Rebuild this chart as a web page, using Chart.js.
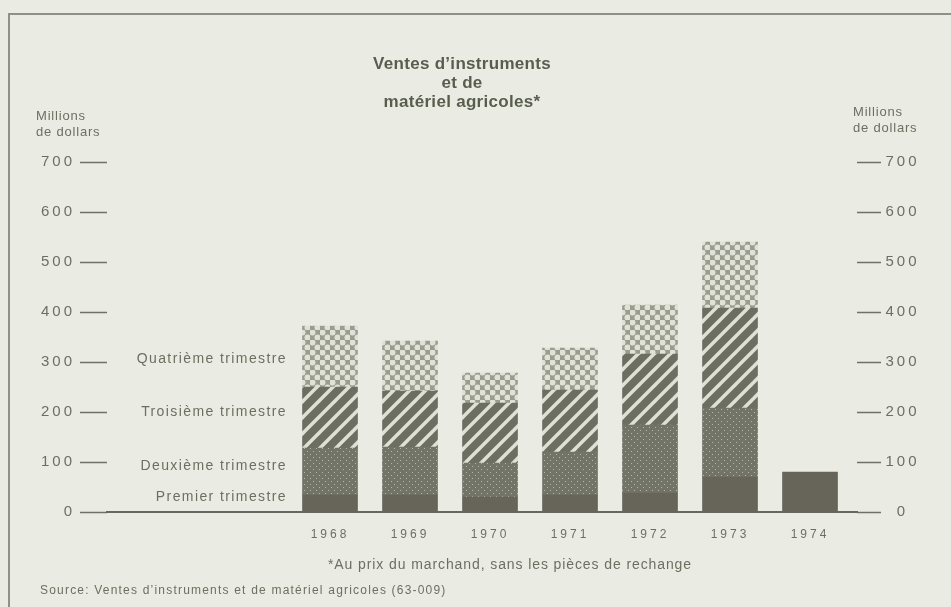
<!DOCTYPE html>
<html>
<head>
<meta charset="utf-8">
<script src="https://cdn.jsdelivr.net/npm/chart.js@4/dist/chart.umd.min.js"></script>
<style>
  body { margin: 0; background: #eaece3; }
  canvas { display: block; }
</style>
</head>
<body>
<canvas id="chart" width="951" height="607"></canvas>
<script>
// years on the x axis
const years = [1968, 1969, 1970, 1971, 1972, 1973, 1974];

// quarterly sales, millions of dollars
const q1 = [34, 34, 30, 34, 38, 70, 80];
const q2 = [94, 96, 68, 86, 136, 138, null];
const q3 = [122, 112, 120, 124, 142, 200, null];
const q4 = [122, 100, 60, 84, 98, 132, null];

const quarterNames = ["Premier trimestre", "Deuxième trimestre", "Troisième trimestre", "Quatrième trimestre"];
const yTicks = [0, 100, 200, 300, 400, 500, 600, 700];

const FONT = '"Liberation Sans", Arial, sans-serif';
const INK = "#6c6f60";
const BG = "#eaece3";

//Patterns for the four quarters
function makeTile(w, h, paint) {
  const c = document.createElement("canvas");
  c.width = w;
  c.height = h;
  paint(c.getContext("2d"));
  return c;
}

const tmp = document.createElement("canvas").getContext("2d");

const solidQ1 = "#676559";

const dotsQ2 = tmp.createPattern(makeTile(6, 6, (g) => {
  g.fillStyle = "#727467";
  g.fillRect(0, 0, 6, 6);
  g.fillStyle = "#b3b6a9";
  g.fillRect(1, 1, 1, 1);
  g.fillRect(4, 4, 1, 1);
}), "repeat");

const stripesQ3 = tmp.createPattern(makeTile(16, 16, (g) => {
  g.fillStyle = "#6b6e60";
  g.fillRect(0, 0, 16, 16);
  g.fillStyle = "#dfe1d6";
  // light band along the "/" diagonal, wrapped so the tile repeats cleanly
  for (const k of [-16, 0, 16]) {
    g.beginPath();
    g.moveTo(k - 2.5, 16);
    g.lineTo(k + 16 - 2.5, 0);
    g.lineTo(k + 16 + 2.5, 0);
    g.lineTo(k + 2.5, 16);
    g.closePath();
    g.fill();
  }
}), "repeat");

const circlesQ4 = tmp.createPattern(makeTile(10, 10, (g) => {
  g.fillStyle = "#9a9c8f";
  g.fillRect(0, 0, 10, 10);
  g.fillStyle = "#e0e2d8";
  const pts = [[2.5, 2.5], [7.5, 7.5]];
  for (const [x, y] of pts) {
    g.beginPath();
    g.arc(x, y, 3, 0, Math.PI * 2);
    g.fill();
  }
}), "repeat");

function series(values) {
  return years.map((yr, i) => ({ x: yr, y: values[i] }));
}

function txt(ctx, s, x, y, font, color, align, spacing) {
  ctx.save();
  ctx.font = font;
  ctx.fillStyle = color;
  ctx.textAlign = align || "left";
  ctx.textBaseline = "middle";
  ctx.letterSpacing = spacing || "0px";
  ctx.fillText(s, x, y);
  ctx.restore();
}

//Draws frame, title and the texts around the bars
const decorations = {
  id: "decorations",
  beforeDraw(chart) {
    const ctx = chart.ctx;
    ctx.save();
    ctx.fillStyle = BG;
    ctx.fillRect(0, 0, chart.width, chart.height);
    ctx.strokeStyle = "#8e9183";
    ctx.lineWidth = 2;
    ctx.beginPath();
    ctx.moveTo(9, chart.height);
    ctx.lineTo(9, 14);
    ctx.lineTo(chart.width, 14);
    ctx.stroke();
    ctx.restore();
    ctx.letterSpacing = "3px";
  },
  afterDraw(chart) {
    const ctx = chart.ctx;
    ctx.letterSpacing = "0px";
    const y = chart.scales.y;

    const tFont = "bold 17px " + FONT;
    txt(ctx, "Ventes d\u2019instruments", 462, 64, tFont, "#595d4e", "center", "0.3px");
    txt(ctx, "et de", 462, 83, tFont, "#595d4e", "center", "0.3px");
    txt(ctx, "matériel agricoles*", 462, 102, tFont, "#595d4e", "center", "0.3px");

    const small = "13px " + FONT;
    txt(ctx, "Millions", 36, 116, small, INK, "left", "0.8px");
    txt(ctx, "de dollars", 36, 132, small, INK, "left", "0.8px");
    txt(ctx, "Millions", 853, 112, small, INK, "left", "0.8px");
    txt(ctx, "de dollars", 853, 128, small, INK, "left", "0.8px");

    const qFont = "14px " + FONT;
    txt(ctx, quarterNames[3], 287, y.getPixelForValue(300) - 3, qFont, INK, "right", "1.4px");
    txt(ctx, quarterNames[2], 287, y.getPixelForValue(200), qFont, INK, "right", "1.4px");
    txt(ctx, quarterNames[1], 287, y.getPixelForValue(100) + 4, qFont, INK, "right", "1.4px");
    txt(ctx, quarterNames[0], 287, y.getPixelForValue(30), qFont, INK, "right", "1.4px");

    txt(ctx, "*Au prix du marchand, sans les pièces de rechange", 510, 565, "14px " + FONT, INK, "center", "0.9px");
    txt(ctx, "Source: Ventes d\u2019instruments et de matériel agricoles (63-009)", 40, 591, "12px " + FONT, INK, "left", "1.2px");
  },
};

const ctx = document.getElementById("chart").getContext("2d");
const chart = new Chart(ctx, {
  type: "bar",
  data: {
    datasets: [
      { label: quarterNames[0], data: series(q1), backgroundColor: solidQ1 },
      { label: quarterNames[1], data: series(q2), backgroundColor: dotsQ2 },
      { label: quarterNames[2], data: series(q3), backgroundColor: stripesQ3 },
      { label: quarterNames[3], data: series(q4), backgroundColor: circlesQ4 },
    ],
  },
  options: {
    responsive: false,
    animation: false,
    devicePixelRatio: 1,
    layout: { padding: { top: 162, left: 0, right: 0, bottom: 0 } },
    datasets: { bar: { barThickness: 55, borderWidth: 0 } },
    plugins: {
      legend: { display: false },
      title: { display: false },
      tooltip: { enabled: false },
    },
    scales: {
      x: {
        type: "linear",
        stacked: true,
        offset: false,
        min: 1965.2125,
        max: 1974.5875,
        afterFit: (s) => { s.height = 95; },
        afterBuildTicks: (s) => { s.ticks = years.map((v) => ({ value: v })); },
        grid: { display: false, drawTicks: false, offset: false },
        border: { display: true, color: "#66685b", width: 2 },
        ticks: {
          padding: 15,
          color: INK,
          font: { family: FONT, size: 12 },
          callback: (v) => String(v),
        },
      },
      y: {
        position: "left",
        stacked: true,
        min: 0,
        max: 700,
        afterFit: (s) => { s.width = 107; },
        afterBuildTicks: (s) => { s.ticks = yTicks.map((v) => ({ value: v })); },
        grid: { drawOnChartArea: false, tickLength: 27, tickWidth: 1.5, tickColor: "#6e7163" },
        border: { display: false },
        ticks: { padding: 5, color: INK, font: { family: FONT, size: 15 } },
      },
      y2: {
        position: "right",
        min: 0,
        max: 700,
        afterFit: (s) => { s.width = 94; },
        afterBuildTicks: (s) => { s.ticks = yTicks.map((v) => ({ value: v })); },
        grid: { drawOnChartArea: false, tickLength: 24, tickWidth: 1.5, tickColor: "#6e7163" },
        border: { display: false },
        ticks: { padding: 9, crossAlign: "center", color: INK, font: { family: FONT, size: 15 } },
      },
    },
  },
  plugins: [decorations],
});
</script>
</body>
</html>
